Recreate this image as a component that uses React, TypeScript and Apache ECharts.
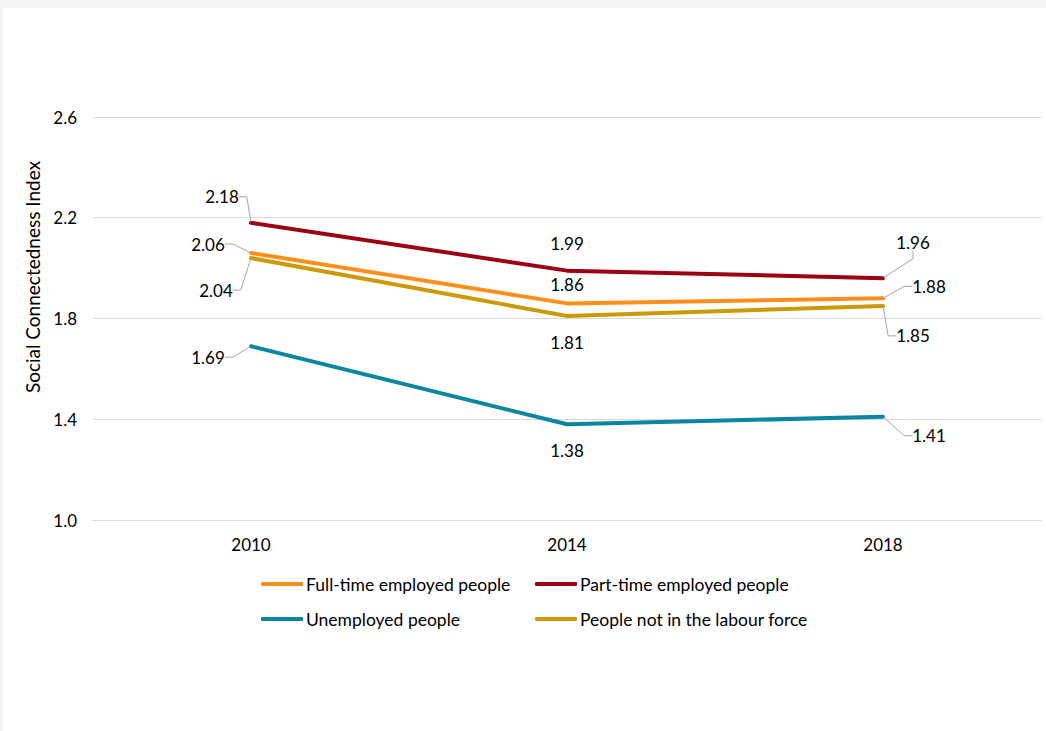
import React, { useEffect, useRef } from "react";
import * as echarts from "echarts";

const years = ["2010", "2014", "2018"];
const fullTime = [2.06, 1.86, 1.88];
const partTime = [2.18, 1.99, 1.96];
const unemployed = [1.69, 1.38, 1.41];
const notInLabour = [2.04, 1.81, 1.85];
const seriesNames = [
  "Full-time employed people",
  "Part-time employed people",
  "Unemployed people",
  "People not in the labour force",
];
const yMin = 1.0;
const yMax = 2.6;
const yInterval = 0.4;
const yTitle = "Social Connectedness Index";

const FONT = "Lato, Carlito, Calibri, 'Open Sans', sans-serif";
const FS = 17;
const colors = ["#FF8F1A", "#9B0014", "#0A87A0", "#CC9A06"];

// label offsets (pixels) from the point, per series per year
const labelOffsets = [
  [[-43, -9], [0, -19], [46, -12]],
  [[-29, -26], [0, -27], [30, -36]],
  [[-43, 11], [0, 26], [46, 19]],
  [[-35, 32], [0, 27], [30, 30]],
];
const showLeader = [true, false, true];

export default function App() {
  const ref = useRef<HTMLDivElement>(null);
  useEffect(() => {
    if (!ref.current) return;
    const chart = echarts.init(ref.current, undefined, { renderer: "svg" });
    const allData = [fullTime, partTime, unemployed, notInLabour];
    const series = allData.map((vals, si) => ({
      name: seriesNames[si],
      type: "line",
      data: vals.map((v, i) => ({
        value: v,
        labelLine: { show: showLeader[i] },
      })),
      symbol: "circle",
      symbolSize: 1,
      showSymbol: true,
      z: 10 - si,
      lineStyle: { width: 4, color: colors[si], cap: "round", join: "round" },
      itemStyle: { color: colors[si] },
      label: {
        show: true,
        position: "inside",
        color: "#000",
        fontFamily: FONT,
        fontSize: FS,
        formatter: (p: any) => Number(p.value).toFixed(2),
      },
      labelLine: {
        show: true,
        length2: 8,
        lineStyle: { color: "#a6a6a6", width: 1 },
      },
      labelLayout: (params: any) => {
        const o = labelOffsets[si][params.dataIndex];
        return { dx: o[0], dy: o[1] };
      },
      emphasis: { disabled: true },
    }));

    const legendPos = [
      [253, 562],
      [527, 562],
      [253, 597],
      [527, 597],
    ];
    const legends = seriesNames.map((n, i) => ({
      data: [n],
      left: legendPos[i][0],
      top: legendPos[i][1],
      icon: "roundRect",
      itemWidth: 42,
      itemHeight: 4,
      selectedMode: false,
      textStyle: { fontFamily: FONT, fontSize: 17.5, color: "#000", padding: [0, 0, 0, -2] },
    }));

    chart.setOption({
      animation: false,
      backgroundColor: "#ffffff",
      textStyle: { fontFamily: FONT },
      grid: { left: 90, right: 5, top: 109, bottom: 211, containLabel: false },
      legend: legends,
      xAxis: {
        type: "category",
        data: years,
        boundaryGap: true,
        axisLine: { show: true, lineStyle: { color: "#d9d9d9", width: 1 } },
        axisTick: { show: false },
        axisLabel: { color: "#000", fontFamily: FONT, fontSize: FS, margin: 16 },
      },
      yAxis: {
        type: "value",
        min: yMin,
        max: yMax,
        interval: yInterval,
        axisLine: { show: false },
        axisTick: { show: false },
        splitLine: { lineStyle: { color: "#d9d9d9", width: 1 } },
        axisLabel: {
          color: "#000",
          fontFamily: FONT,
          fontSize: FS,
          margin: 16,
          formatter: (v: number) => v.toFixed(1),
        },
      },
      graphic: [
        {
          type: "text",
          x: 29,
          y: 269,
          rotation: Math.PI / 2,
          style: {
            text: yTitle,
            fontFamily: FONT,
            fontSize: 19,
            fill: "#000",
            align: "center",
            verticalAlign: "middle",
          },
        },
      ],
      series,
    });
    return () => chart.dispose();
  }, []);

  return (
    <div style={{ position: "fixed", inset: 0, background: "#f5f5f5" }}>
      <div
        ref={ref}
        style={{ position: "absolute", left: 3, top: 8, width: 1043, height: 723, background: "#fff" }}
      />
    </div>
  );
}
